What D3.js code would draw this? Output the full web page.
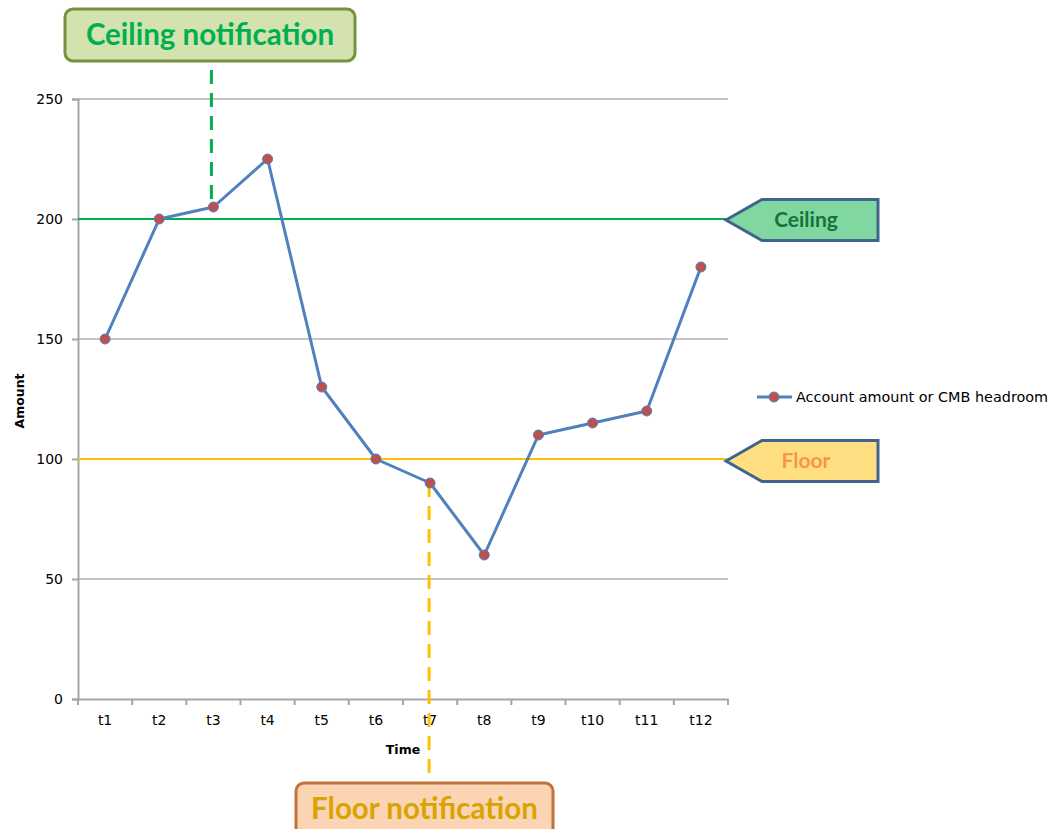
<!DOCTYPE html>
<html>
<head>
<meta charset="utf-8">
<script src="https://cdn.jsdelivr.net/npm/d3@7"></script>
<style>
  body { margin: 0; background: #fff; }
  svg { display: block; font-family: "DejaVu Sans", Verdana, sans-serif; }
</style>
</head>
<body>
<div id="chart"></div>
<script>
// chart values
const categories = ["t1", "t2", "t3", "t4", "t5", "t6", "t7", "t8", "t9", "t10", "t11", "t12"];
const amounts = [150, 200, 205, 225, 130, 100, 90, 60, 110, 115, 120, 180];
const yTickValues = [0, 50, 100, 150, 200, 250];
const ceiling = 200;
const floor = 100;
const seriesName = "Account amount or CMB headroom";
const ceilingAt = "t3";
const floorAt = "t7";

const W = 1053, H = 829;
const plot = {left: 78, right: 728, top: 99, bottom: 699};

const svg = d3.select("#chart").append("svg")
    .attr("width", W)
    .attr("height", H);

let x = d3.scaleBand()
    .domain(categories)
    .range([plot.left, plot.right]);

let y = d3.scaleLinear()
    .domain([0, 250])
    .range([plot.bottom, plot.top]);

let cx = d => x(d) + x.bandwidth() / 2;

// grid lines
svg.append("g")
    .selectAll("line")
    .data(yTickValues.filter(v => v > 0))
    .join("line")
    .attr("x1", plot.left).attr("x2", plot.right)
    .attr("y1", d => y(d)).attr("y2", d => y(d))
    .attr("stroke", "#8c8c8c")
    .attr("stroke-width", 1);

// y axis
let yAxis = svg.append("g")
    .attr("transform", `translate(${plot.left},0)`)
    .call(d3.axisLeft(y).tickValues(yTickValues).tickSize(6).tickPadding(9));
yAxis.attr("font-size", 14).attr("font-family", "DejaVu Sans");
yAxis.select(".domain").attr("stroke", "#a6a6a6").attr("stroke-width", 2);
yAxis.selectAll(".tick line").attr("stroke", "#a6a6a6").attr("stroke-width", 2);
yAxis.selectAll("text").attr("fill", "#000");

// x axis, ticks at band edges
let xAxis = svg.append("g")
    .attr("transform", `translate(0,${plot.bottom})`)
    .call(d3.axisBottom(x).tickSize(0).tickPadding(16));
xAxis.attr("font-size", 14).attr("font-family", "DejaVu Sans");
xAxis.select(".domain").attr("stroke", "#a6a6a6").attr("stroke-width", 2);
xAxis.selectAll("text").attr("fill", "#000");
xAxis.selectAll(".edge")
    .data(d3.range(categories.length + 1))
    .join("line")
    .attr("class", "edge")
    .attr("x1", i => plot.left + i * x.bandwidth())
    .attr("x2", i => plot.left + i * x.bandwidth())
    .attr("y1", 0).attr("y2", 6)
    .attr("stroke", "#a6a6a6").attr("stroke-width", 2);

// axis titles
svg.append("text")
    .attr("transform", `translate(24,${(plot.top + plot.bottom) / 2 + 2}) rotate(-90)`)
    .attr("text-anchor", "middle")
    .attr("font-size", 12.5).attr("font-weight", "bold")
    .text("Amount");
svg.append("text")
    .attr("x", 403).attr("y", 754)
    .attr("text-anchor", "middle")
    .attr("font-size", 12.5).attr("font-weight", "bold")
    .text("Time");

// ceiling / floor lines
svg.append("line")
    .attr("x1", plot.left).attr("x2", 726)
    .attr("y1", y(ceiling)).attr("y2", y(ceiling))
    .attr("stroke", "#00b050").attr("stroke-width", 2);
svg.append("line")
    .attr("x1", plot.left).attr("x2", 726)
    .attr("y1", y(floor)).attr("y2", y(floor))
    .attr("stroke", "#ffc000").attr("stroke-width", 2);

// notification dashes
let iC = categories.indexOf(ceilingAt);
let iF = categories.indexOf(floorAt);
svg.append("line")
    .attr("x1", cx(ceilingAt) - 2).attr("x2", cx(ceilingAt) - 2)
    .attr("y1", 70).attr("y2", y(amounts[iC]))
    .attr("stroke", "#00b050").attr("stroke-width", 3)
    .attr("stroke-dasharray", "14 9");
svg.append("line")
    .attr("x1", cx(floorAt) - 1).attr("x2", cx(floorAt) - 1)
    .attr("y1", y(amounts[iF])).attr("y2", 780)
    .attr("stroke", "#ffc000").attr("stroke-width", 3)
    .attr("stroke-dasharray", "14 9");

// series
let line = d3.line()
    .x((d, i) => cx(categories[i]))
    .y(d => y(d));
svg.append("path")
    .datum(amounts)
    .attr("d", line)
    .attr("fill", "none")
    .attr("stroke", "#4f81bd").attr("stroke-width", 3)
    .attr("stroke-linejoin", "round");
svg.append("g")
    .selectAll("circle")
    .data(amounts)
    .join("circle")
    .attr("cx", (d, i) => cx(categories[i]))
    .attr("cy", d => y(d))
    .attr("r", 5)
    .attr("fill", "#c0504d")
    .attr("stroke", "#4f81bd").attr("stroke-width", 1);

// legend
let lg = svg.append("g").attr("transform", "translate(757,397)");
lg.append("line").attr("x1", 0).attr("x2", 35)
    .attr("stroke", "#4f81bd").attr("stroke-width", 3);
lg.append("circle").attr("cx", 17).attr("r", 5)
    .attr("fill", "#c0504d").attr("stroke", "#4f81bd");
lg.append("text").attr("x", 39).attr("y", 5)
    .attr("font-size", 14.4)
    .text(seriesName);

// tag shapes pointing at ceiling / floor
let tag = (yc, fill, color, label) => {
    let t = 20.5;
    let pts = [[726, yc], [762, yc - t], [878, yc - t], [878, yc + t], [762, yc + t]];
    svg.append("polygon")
        .attr("points", pts.map(p => p.join(",")).join(" "))
        .attr("fill", fill)
        .attr("stroke", "#41648f").attr("stroke-width", 3)
        .attr("stroke-linejoin", "miter");
    svg.append("text")
        .attr("x", 806).attr("y", yc + 7)
        .attr("text-anchor", "middle")
        .attr("font-family", "Lato, 'Open Sans', sans-serif")
        .attr("font-weight", "bold").attr("font-size", 21)
        .attr("fill", color)
        .text(label);
};
tag(y(ceiling) + 1, "#80d7a2", "#17733a", "Ceiling");
tag(y(floor) + 2, "#ffdf82", "#f79646", "Floor");

// notification boxes
let note = (bx, by, bw, bh, fill, stroke, color, label) => {
    svg.append("rect")
        .attr("x", bx).attr("y", by)
        .attr("width", bw).attr("height", bh)
        .attr("rx", 8)
        .attr("fill", fill)
        .attr("stroke", stroke).attr("stroke-width", 3);
    svg.append("text")
        .attr("x", bx + bw / 2).attr("y", by + 36)
        .attr("text-anchor", "middle")
        .attr("font-family", "Lato, 'Open Sans', sans-serif")
        .attr("font-weight", "bold").attr("font-size", 29.5)
        .attr("fill", color)
        .text(label);
};
note(65, 9, 290, 52, "#d3e2ae", "#76923c", "#00b050", "Ceiling notification");
note(296, 783, 257, 60, "#fbd4b4", "#c0733a", "#d9a300", "Floor notification");
</script>
</body>
</html>
